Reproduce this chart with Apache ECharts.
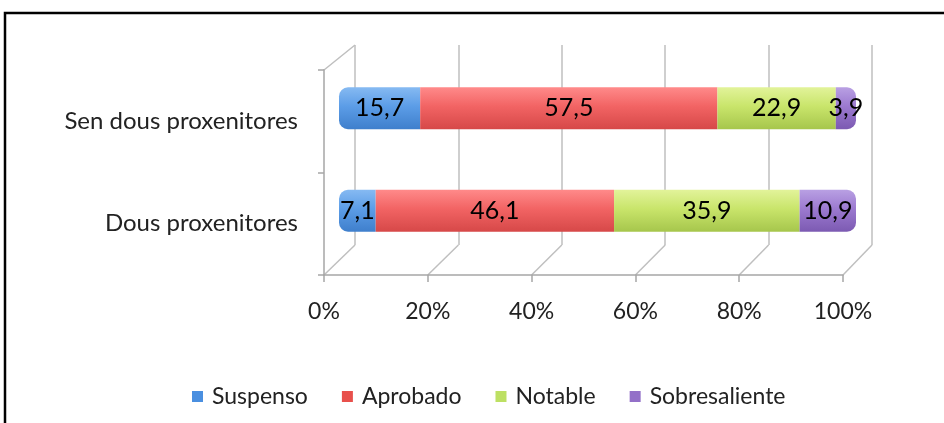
<!DOCTYPE html>
<html>
<head>
<meta charset="utf-8">
<script src="https://cdn.jsdelivr.net/npm/echarts@6/dist/echarts.min.js"></script>
<style>
  html, body { margin: 0; padding: 0; background: #fff; }
  #box { width: 944px; height: 423px; }
</style>
</head>
<body>
<div id="box"></div>
<script>
var categories = ['Dous proxenitores', 'Sen dous proxenitores'];
var suspenso = [7.1, 15.7];
var aprobado = [46.1, 57.5];
var notable = [35.9, 22.9];
var sobresaliente = [10.9, 3.9];
var seriesNames = ['Suspenso', 'Aprobado', 'Notable', 'Sobresaliente'];
var xTicks = [0, 20, 40, 60, 80, 100];

var myChart = echarts.init(document.getElementById('box'));

var fontName = 'Lato';
// tonos de cada serie: arriba, medio, abajo (efecto cilindro)
var shades = [
    ['#86baf2', '#5c9de7', '#3f7fcc'],
    ['#ff8a8a', '#f26464', '#d64848'],
    ['#e2f39a', '#c9e56b', '#a6c64c'],
    ['#b9a0e3', '#9c7ad0', '#7c5ab2']
];
var legendColors = ['#4a8fe0', '#e8504c', '#bde063', '#9370c8'];

function cyl(c) {
    return new echarts.graphic.LinearGradient(0, 0, 0, 1, [
        {offset: 0, color: c[0]},
        {offset: 0.45, color: c[1]},
        {offset: 1, color: c[2]}
    ]);
}

function fmt(p) {
    return String(p.value).replace('.', ',');
}

var allData = [suspenso, aprobado, notable, sobresaliente];
var series = allData.map(function (d, i) {
    var radius = 0;
    if (i === 0) radius = [9, 0, 0, 9];
    if (i === 3) radius = [0, 9, 9, 0];
    return {
        name: seriesNames[i],
        type: 'bar',
        stack: 'total',
        xAxisIndex: 2,
        yAxisIndex: 2,
        barWidth: 42,
        data: d,
        itemStyle: {color: cyl(shades[i]), borderRadius: radius},
        label: {
            show: true,
            position: 'inside',
            formatter: fmt,
            color: '#000',
            fontSize: 25,
            fontFamily: fontName
        },
        emphasis: {disabled: true}
    };
});

var option = {
    animation: false,
    grid: [
        // frente (ejes con etiquetas)
        {left: 324, width: 519, top: 70, height: 205},
        // pared del fondo
        {left: 355, width: 517, top: 45, height: 200},
        // barras (plano medio)
        {left: 339, width: 517, top: 57, height: 205}
    ],
    xAxis: [
        {
            gridIndex: 0, type: 'value', min: 0, max: 100, interval: 20,
            axisLine: {show: true, lineStyle: {color: '#a6a6a6', width: 1.5}},
            axisTick: {show: true, length: 7, lineStyle: {color: '#a6a6a6', width: 1.5}},
            splitLine: {show: false},
            axisLabel: {formatter: '{value}%', color: '#222', fontSize: 23, fontFamily: fontName, margin: 25}
        },
        {
            gridIndex: 1, type: 'value', min: 0, max: 100, interval: 20,
            axisLine: {show: false}, axisTick: {show: false}, axisLabel: {show: false},
            splitLine: {show: true, lineStyle: {color: '#bfbfbf', width: 1.5}}
        },
        {
            gridIndex: 2, type: 'value', min: 0, max: 100, show: false
        }
    ],
    yAxis: [
        {
            gridIndex: 0, type: 'category', data: categories,
            axisLine: {show: true, lineStyle: {color: '#a6a6a6', width: 1.5}},
            axisTick: {show: true, length: 6, lineStyle: {color: '#a6a6a6', width: 1.5}},
            axisLabel: {color: '#222', fontSize: 24, fontFamily: fontName, margin: 26}
        },
        {
            gridIndex: 1, type: 'category', data: categories, show: false
        },
        {
            gridIndex: 2, type: 'category', data: categories, show: false
        }
    ],
    legend: {
        bottom: 10,
        left: 187,
        itemWidth: 11,
        itemHeight: 11,
        itemGap: 34,
        icon: 'rect',
        textStyle: {color: '#222', fontSize: 23, fontFamily: fontName, padding: [0, 0, 0, 4]},
        data: seriesNames.map(function (n, i) {
            return {name: n, itemStyle: {color: legendColors[i]}};
        })
    },
    series: series
};

myChart.setOption(option);

// lineas diagonales del suelo y marco exterior
var els = [{
    type: 'rect',
    shape: {x: 5, y: 13, width: 1000, height: 500},
    style: {fill: null, stroke: '#000', lineWidth: 2.5},
    z: 100
}];
xTicks.forEach(function (v) {
    var f = myChart.convertToPixel({xAxisIndex: 0, yAxisIndex: 0}, [v, 0]);
    var b = myChart.convertToPixel({xAxisIndex: 1, yAxisIndex: 1}, [v, 0]);
    els.push({
        type: 'line',
        shape: {x1: f[0], y1: 275, x2: b[0], y2: 245},
        style: {stroke: '#bfbfbf', lineWidth: 1.5}
    });
});
// diagonal superior izquierda
els.push({
    type: 'line',
    shape: {x1: 324, y1: 70, x2: 355, y2: 45},
    style: {stroke: '#bfbfbf', lineWidth: 1.5}
});
myChart.setOption({graphic: els});
</script>
</body>
</html>
